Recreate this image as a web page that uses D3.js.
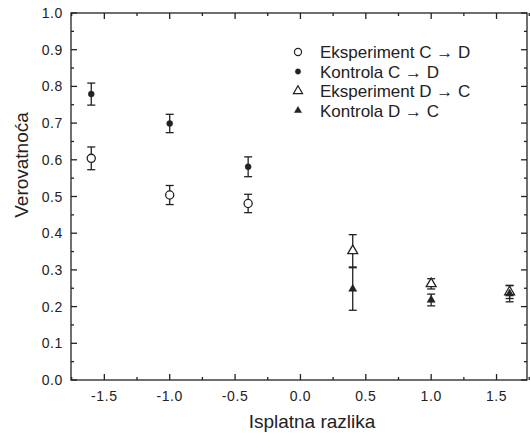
<!DOCTYPE html>
<html>
<head>
<meta charset="utf-8">
<script src="https://cdn.jsdelivr.net/npm/d3@7"></script>
<style>
  body { margin: 0; background: #fff; }
  text { font-family: "Liberation Sans", Arial, sans-serif; fill: #222; }
</style>
</head>
<body>
<div id="chart"></div>
<script>
// x positions (payoff difference)
var xCD = [-1.6, -1.0, -0.4],
    xDC = [0.4, 1.0, 1.6];

// probabilities and error half-widths
var expCD = [0.604, 0.504, 0.481], expCDerr = [0.031, 0.026, 0.025],
    konCD = [0.779, 0.699, 0.581], konCDerr = [0.030, 0.025, 0.027],
    expDC = [0.352, 0.262, 0.240], expDCerr = [0.044, 0.014, 0.018],
    konDC = [0.248, 0.218, 0.235], konDCerr = [0.058, 0.016, 0.022];

var xTicks = [-1.5, -1.0, -0.5, 0.0, 0.5, 1.0, 1.5],
    yTicks = [0, 0.1, 0.2, 0.3, 0.4, 0.5, 0.6, 0.7, 0.8, 0.9, 1.0];

var legendLabels = ["Eksperiment C \u2192 D", "Kontrola C \u2192 D", "Eksperiment D \u2192 C", "Kontrola D \u2192 C"];

var W = 530, H = 434;
var margin = {top: 13, right: 3, bottom: 54, left: 71};
var width = W - margin.left - margin.right,
    height = H - margin.top - margin.bottom;

var svg = d3.select("#chart").append("svg")
    .attr("width", W).attr("height", H)
    .append("g")
    .attr("transform", "translate(" + margin.left + "," + margin.top + ")");

var x = d3.scaleLinear().domain([-1.755, 1.733]).range([0, width]);
var y = d3.scaleLinear().domain([0, 1]).range([height, 0]);

var axisColor = "#222";

// frame
svg.append("rect")
    .attr("width", width).attr("height", height)
    .attr("fill", "none").attr("stroke", axisColor).attr("stroke-width", 1.3);

// minor tick values
var xMinor = d3.range(-1.75, 1.76, 0.25).filter(function(v) { return Math.abs((v * 2) % 1) > 0.01; });
var yMinor = d3.range(0.05, 1, 0.1);

function ticks(g, vals, len, side) {
  g.selectAll("line").data(vals).enter().append("line")
    .attr("stroke", axisColor).attr("stroke-width", 1.3)
    .each(function(v) {
      var s = d3.select(this);
      if (side == "bottom") s.attr("x1", x(v)).attr("x2", x(v)).attr("y1", height).attr("y2", height - len);
      if (side == "top") s.attr("x1", x(v)).attr("x2", x(v)).attr("y1", 0).attr("y2", len);
      if (side == "left") s.attr("y1", y(v)).attr("y2", y(v)).attr("x1", 0).attr("x2", len);
      if (side == "right") s.attr("y1", y(v)).attr("y2", y(v)).attr("x1", width).attr("x2", width - len);
    });
}
["bottom", "top"].forEach(function(s) {
  ticks(svg.append("g"), xTicks, 6, s);
  ticks(svg.append("g"), xMinor, 3, s);
});
["left", "right"].forEach(function(s) {
  ticks(svg.append("g"), yTicks, 6, s);
  ticks(svg.append("g"), yMinor, 3, s);
});

// tick labels
svg.selectAll(".xl").data(xTicks).enter().append("text")
    .attr("x", function(d) { return x(d); })
    .attr("y", height + 21)
    .attr("text-anchor", "middle")
    .style("font-size", "14px")
    .style("letter-spacing", "0.6px")
    .text(function(d) { return d3.format(".1f")(d).replace("\u2212", "-"); });

svg.selectAll(".yl").data(yTicks).enter().append("text")
    .attr("x", -8)
    .attr("y", function(d) { return y(d); })
    .attr("dy", "0.36em")
    .attr("text-anchor", "end")
    .style("font-size", "14px")
    .style("letter-spacing", "0.6px")
    .text(function(d) { return d3.format(".1f")(d); });

// axis titles
svg.append("text")
    .attr("x", 312 - margin.left)
    .attr("y", height + 48)
    .attr("text-anchor", "middle")
    .style("font-size", "19px")
    .text("Isplatna razlika");

svg.append("text")
    .attr("transform", "translate(" + (28 - margin.left) + "," + (165 - margin.top) + ") rotate(-90)")
    .attr("text-anchor", "middle")
    .style("font-size", "19px")
    .text("Verovatnoća");

// error bars
function errBars(xs, ys, es) {
  var g = svg.append("g").attr("stroke", axisColor).attr("stroke-width", 1.3);
  xs.forEach(function(xv, i) {
    var lo = ys[i] - es[i], hi = ys[i] + es[i];
    g.append("line").attr("x1", x(xv)).attr("x2", x(xv)).attr("y1", y(lo)).attr("y2", y(hi));
    g.append("line").attr("x1", x(xv) - 4).attr("x2", x(xv) + 4).attr("y1", y(lo)).attr("y2", y(lo));
    g.append("line").attr("x1", x(xv) - 4).attr("x2", x(xv) + 4).attr("y1", y(hi)).attr("y2", y(hi));
  });
}
errBars(xCD, expCD, expCDerr);
errBars(xCD, konCD, konCDerr);
errBars(xDC, konDC, konDCerr);
errBars(xDC, expDC, expDCerr);

var symOpenCircle = d3.symbol().type(d3.symbolCircle).size(52),
    symDot = d3.symbol().type(d3.symbolCircle).size(28),
    symOpenTri = d3.symbol().type(d3.symbolTriangle).size(42),
    symTri = d3.symbol().type(d3.symbolTriangle).size(28);

function markers(xs, ys, sym, filled) {
  svg.append("g").selectAll("path").data(xs).enter().append("path")
    .attr("d", sym)
    .attr("transform", function(d, i) { return "translate(" + x(d) + "," + y(ys[i]) + ")"; })
    .attr("fill", filled ? axisColor : "#fff")
    .attr("stroke", axisColor)
    .attr("stroke-width", filled ? 0.5 : 1.3);
}
markers(xCD, expCD, symOpenCircle, false);
markers(xCD, konCD, symDot, true);
markers(xDC, expDC, symOpenTri, false);
markers(xDC, konDC, symTri, true);

// legend (slightly smaller symbols)
var legSyms = [
      d3.symbol().type(d3.symbolCircle).size(40),
      d3.symbol().type(d3.symbolCircle).size(22),
      d3.symbol().type(d3.symbolTriangle).size(36),
      d3.symbol().type(d3.symbolTriangle).size(22)],
    legFill = [false, true, false, true];
var leg = svg.append("g").attr("transform", "translate(" + (298 - margin.left) + "," + (52 - margin.top) + ")");
legendLabels.forEach(function(lab, i) {
  var row = leg.append("g").attr("transform", "translate(0," + (i * 19.5) + ")");
  row.append("path")
    .attr("d", legSyms[i])
    .attr("fill", legFill[i] ? axisColor : "#fff")
    .attr("stroke", axisColor)
    .attr("stroke-width", legFill[i] ? 0.5 : 1.2);
  row.append("text")
    .attr("x", 22)
    .attr("dy", "0.36em")
    .style("font-size", "17px")
    .text(lab);
});
</script>
</body>
</html>
